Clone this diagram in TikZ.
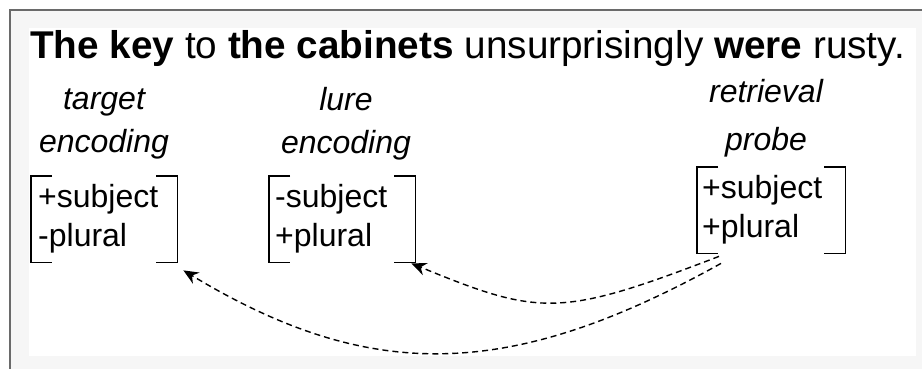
\documentclass[tikz,border=0pt]{standalone}
\usepackage{fontspec}
\setmainfont{Liberation Sans}
\usepackage{xcolor}
\usetikzlibrary{arrows.meta,positioning}

\definecolor{panelgray}{HTML}{F6F6F6}
\definecolor{framegray}{HTML}{6A6A6A}

% square brackets round a feature box
\newcommand{\featbrackets}[1]{%
  \draw[bracket] ([xshift=21pt]#1.north west) -- (#1.north west) -- (#1.south west) -- ([xshift=21pt]#1.south west);
  \draw[bracket] ([xshift=-21pt]#1.north east) -- (#1.north east) -- (#1.south east) -- ([xshift=-21pt]#1.south east);
}

\begin{document}
\begin{tikzpicture}[x=1pt, y=-1pt,
    feat/.style={anchor=north west, inner ysep=0pt, minimum height=86pt, align=left,
      font=\fontsize{32}{39}\selectfont},
    role/.style={align=center, inner sep=0pt, font=\itshape\fontsize{32}{43}\selectfont},
    bracket/.style={line width=1.3pt},
    cue/.style={dashed, dash pattern=on 6pt off 4pt, line width=1.4pt,
      -{Stealth[length=15pt, width=13pt, inset=5pt]}}]
    \useasboundingbox (0,0) rectangle (922,369);
    % background panel
    \fill[panelgray] (10,10) rectangle (922,369);
    \fill[white] (29,28) rectangle (916,356);
    \draw[framegray, line width=2pt] (10,369) -- (10,10) -- (922,10);

    \node[anchor=base west, inner sep=0pt, font=\fontsize{38.7}{46}\selectfont] (title) at (30,59)
      {\textbf{The key} to \textbf{the cabinets} unsurprisingly \textbf{were} rusty.};

    \node[role] (targetlab) at (104,124) {target\\encoding};
    \node[role] (lurelab) at (346,124) {lure\\encoding};
    \node[role] (probelab) at (766,118) {retrieval\\[5pt]probe};

    \node[feat, inner xsep=7pt, text width=132pt] (target) at (31,176) {+subject\\-plural};
    \node[feat, inner xsep=6pt, text width=134pt] (lure) at (269,176) {-subject\\+plural};
    \node[feat, inner xsep=5pt, text width=138pt] (probe) at (697,167) {+subject\\+plural};
    \featbrackets{target}
    \featbrackets{lure}
    \featbrackets{probe}

    \draw[cue] ([xshift=22pt, yshift=-3pt]probe.south west)
      .. controls +(-159,61) and +(129,53) .. ([xshift=-4pt, yshift=-1pt]lure.south east);
    \draw[cue] ([xshift=24pt, yshift=-10pt]probe.south west)
      .. controls +(-214,119) and +(184,111) .. ([xshift=6pt, yshift=-8pt]target.south east);
\end{tikzpicture}
\end{document}
